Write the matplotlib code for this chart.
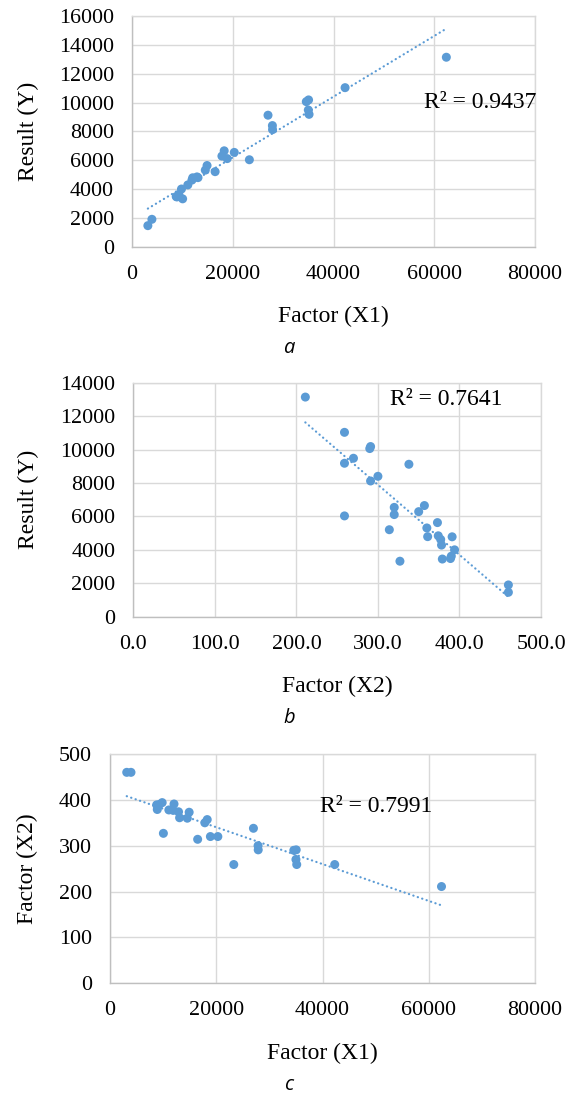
import numpy as np
import matplotlib
matplotlib.use("Agg")
import matplotlib.pyplot as plt
from matplotlib.ticker import FuncFormatter

# ---- data ----
factor_x1 = [62400, 42300, 34600, 35050, 35000, 35150, 27000, 27870, 27900, 23300,
             20300, 18900, 18300, 17850, 16500, 14900, 14550, 13100, 12900, 12050,
             11900, 11080, 10050, 9820, 9300, 8900, 8780, 3950, 3150]
factor_x2 = [211, 259, 290, 291, 270, 259, 338, 300, 291, 259,
             320, 320, 357, 350, 314, 373, 360, 361, 374, 391,
             377, 378, 327, 394, 390, 379, 389, 460, 460]
result_y = [13140, 11030, 10060, 10180, 9480, 9180, 9120, 8400, 8120, 6030,
            6540, 6110, 6650, 6285, 5204, 5630, 5310, 4790, 4840, 4780,
            4620, 4285, 3320, 4000, 3620, 3450, 3480, 1900, 1460]

r2_labels = ["R² = 0.9437", "R² = 0.7641", "R² = 0.7991"]
x_titles = ["Factor (X1)", "Factor (X2)", "Factor (X1)"]
y_titles = ["Result (Y)", "Result (Y)", "Factor (X2)"]
captions = ["a", "b", "c"]

W, H = 571, 1098
fig = plt.figure(figsize=(W / 100, H / 100), dpi=100)

BLUE = "#5B9BD5"
GRID = "#D9D9D9"
SERIF = "Liberation Serif"
TICK_FS = 15.8
LABEL_FS = 17


def rect(left, top, right, bottom):
    return [left / W, 1 - bottom / H, (right - left) / W, (bottom - top) / H]


def fpos(x, y):
    return x / W, 1 - y / H


panels = [
    dict(x=factor_x1, y=result_y, box=(132, 16, 535, 246.7), xlim=(0, 80000), xstep=20000,
         ylim=(0, 16000), ystep=2000, xfmt="{:.0f}", r2=(480, 103), xlab_y=316, cap_y=348,
         ylab_x=28),
    dict(x=factor_x2, y=result_y, box=(133.3, 382.7, 541, 616.7), xlim=(0, 500), xstep=100,
         ylim=(0, 14000), ystep=2000, xfmt="{:.1f}", r2=(446, 399), xlab_y=686, cap_y=718,
         ylab_x=28),
    dict(x=factor_x1, y=factor_x2, box=(110, 754, 535, 983.3), xlim=(0, 80000), xstep=20000,
         ylim=(0, 500), ystep=100, xfmt="{:.0f}", r2=(376, 806), xlab_y=1053, cap_y=1085,
         ylab_x=27),
]

for i, p in enumerate(panels):
    l, t, r, b = p["box"]
    ax = fig.add_axes(rect(l, t, r, b))
    ax.set_xlim(*p["xlim"])
    ax.set_ylim(*p["ylim"])
    ax.set_xticks(np.arange(p["xlim"][0], p["xlim"][1] + 1e-9, p["xstep"]))
    ax.set_yticks(np.arange(p["ylim"][0], p["ylim"][1] + 1e-9, p["ystep"]))
    fmt = p["xfmt"]
    ax.xaxis.set_major_formatter(FuncFormatter(lambda v, pos, f=fmt: f.format(v)))
    ax.yaxis.set_major_formatter(FuncFormatter(lambda v, pos: "{:.0f}".format(v)))
    ax.grid(True, color=GRID, linewidth=1.0)
    ax.set_axisbelow(True)
    for s in ax.spines.values():
        s.set_color(GRID)
        s.set_linewidth(1.0)
    ax.spines["left"].set_color("#BFBFBF")
    ax.spines["bottom"].set_color("#BFBFBF")
    ax.tick_params(length=0, labelsize=TICK_FS, colors="#000000")
    ax.tick_params(axis="x", pad=13)
    ax.tick_params(axis="y", pad=13)
    for lab in ax.get_xticklabels() + ax.get_yticklabels():
        lab.set_fontfamily(SERIF)

    xs = np.array(p["x"], dtype=float)
    ys = np.array(p["y"], dtype=float)
    ax.scatter(xs, ys, s=42, color=BLUE, edgecolors="none", zorder=3)
    coef = np.polyfit(xs, ys, 1)
    xl = np.array([xs.min(), xs.max()])
    ax.plot(xl, np.polyval(coef, xl), color=BLUE, linewidth=1.6,
            linestyle=(0, (0.1, 2.0)), dash_capstyle="round", zorder=2)

    fig.text(*fpos(*p["r2"]), r2_labels[i], fontsize=LABEL_FS, family=SERIF,
             ha="center", va="center")
    fig.text(*fpos((l + r) / 2, p["xlab_y"]), x_titles[i], fontsize=LABEL_FS, family=SERIF,
             ha="center", va="center")
    fig.text(*fpos(p["ylab_x"], (t + b) / 2), y_titles[i], fontsize=LABEL_FS, family=SERIF,
             ha="center", va="center", rotation=90)
    fig.text(*fpos(289, p["cap_y"]), captions[i], fontsize=14.5,
             family="Open Sans", style="italic", ha="center", va="center")

fig.savefig("out.png", dpi=100, facecolor="white")
